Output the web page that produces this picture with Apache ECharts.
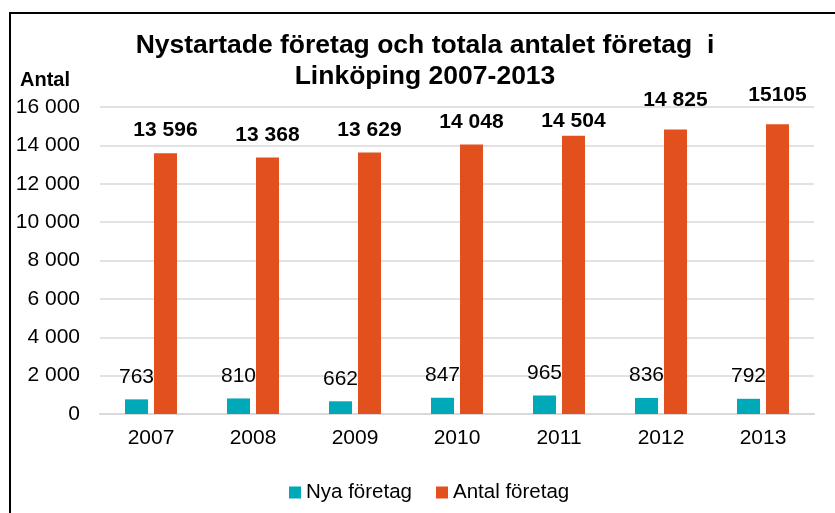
<!DOCTYPE html>
<html lang="sv">
<head>
    <meta charset="UTF-8">
    <title>Nystartade företag i Linköping</title>
    <script src="https://cdn.jsdelivr.net/npm/echarts@6/dist/echarts.min.js"></script>
    <style>
        html, body { margin: 0; padding: 0; background: #fff; }
    </style>
</head>
<body>
<div id="chartmain" style="width: 835px; height: 513px;"></div>
<script type="text/javascript">
    // data
    var years = ['2007', '2008', '2009', '2010', '2011', '2012', '2013'];
    var nyaForetag = [763, 810, 662, 847, 965, 836, 792];
    var antalForetag = [13596, 13368, 13629, 14048, 14504, 14825, 15105];
    var antalText = ['13 596', '13 368', '13 629', '14 048', '14 504', '14 825', '15105'];

    var font = '"Liberation Sans", Arial, sans-serif';

    function tusental(v) {
        return String(v).replace(/\B(?=(\d{3})+(?!\d))/g, ' ');
    }

    // Excel-etiketterna är flyttade lite för hand
    var labelNudge = { 4: 8, 5: -7, 6: -6 };

    var antalData = antalForetag.map(function (v, i) {
        var item = { value: v };
        if (labelNudge[i]) {
            item.label = { offset: [0, labelNudge[i]] };
        }
        return item;
    });

    var myChart = echarts.init(document.getElementById('chartmain'));

    var option = {
        animation: false,
        textStyle: { fontFamily: font },
        title: [{
            text: 'Nystartade företag och totala antalet företag  i\nLinköping 2007-2013',
            left: 425,
            top: 30,
            padding: 0,
            textAlign: 'center',
            textStyle: {
                fontFamily: font,
                fontSize: 26.5,
                fontWeight: 'bold',
                color: '#000',
                lineHeight: 31
            }
        }, {
            text: 'Antal',
            left: 15,
            top: 65,
            textStyle: {
                fontFamily: font,
                fontSize: 20,
                fontWeight: 'bold',
                color: '#000'
            }
        }],
        legend: {
            left: 284,
            top: 477,
            itemWidth: 12,
            itemHeight: 12,
            itemGap: 24,
            icon: 'rect',
            textStyle: { fontFamily: font, fontSize: 20.5, color: '#000' },
            data: ['Nya företag', 'Antal företag']
        },
        grid: {
            left: 100,
            right: 21,
            top: 107,
            bottom: 99,
            containLabel: false
        },
        xAxis: {
            type: 'category',
            data: years,
            axisLine: { lineStyle: { color: '#d9d9d9', width: 2 } },
            axisTick: { show: false },
            axisLabel: { fontFamily: font, fontSize: 21, color: '#000', margin: 14 }
        },
        yAxis: {
            type: 'value',
            min: 0,
            max: 16000,
            interval: 2000,
            axisLine: { show: false },
            axisTick: { show: false },
            splitLine: { lineStyle: { color: '#d9d9d9', width: 1.5 } },
            axisLabel: {
                fontFamily: font,
                fontSize: 21,
                color: '#000',
                margin: 20,
                formatter: function (v) { return tusental(v); }
            }
        },
        series: [{
            name: 'Nya företag',
            type: 'bar',
            barWidth: 23,
            barGap: '26%',
            itemStyle: { color: '#00a9b8' },
            label: {
                show: true,
                position: 'top',
                distance: 12,
                fontFamily: font,
                fontSize: 21,
                color: '#000'
            },
            data: nyaForetag
        }, {
            name: 'Antal företag',
            type: 'bar',
            barWidth: 23,
            itemStyle: { color: '#e2501e' },
            label: {
                show: true,
                position: 'top',
                distance: 12,
                fontFamily: font,
                fontSize: 21,
                fontWeight: 'bold',
                color: '#000',
                formatter: function (p) { return antalText[p.dataIndex]; }
            },
            data: antalData
        }],
        graphic: [{
            type: 'polyline',
            shape: { points: [[10, 513], [10, 13], [835, 13]] },
            style: { stroke: '#000', lineWidth: 2, fill: null },
            silent: true
        }]
    };

    myChart.setOption(option);
</script>
</body>
</html>
